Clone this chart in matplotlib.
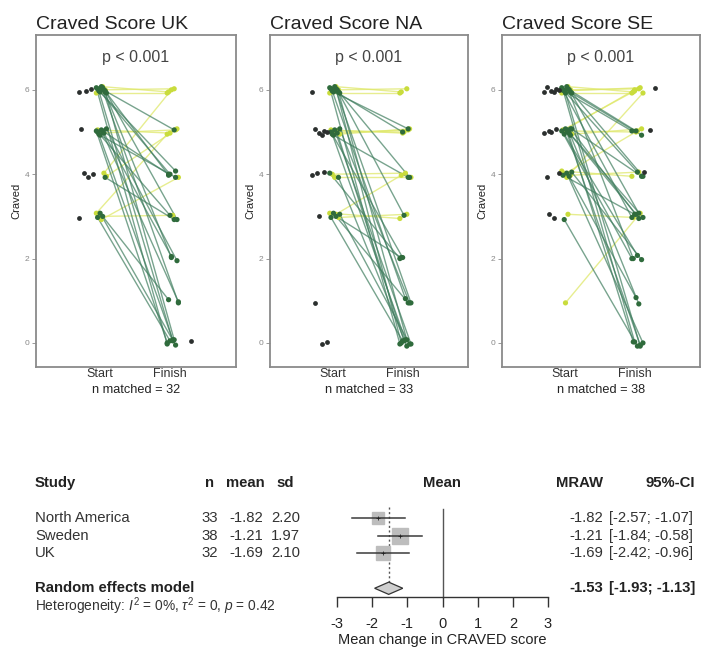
import numpy as np
import matplotlib
matplotlib.use("Agg")
import matplotlib.pyplot as plt
from matplotlib.transforms import blended_transform_factory

plt.rcParams['font.family'] = ['Liberation Sans', 'DejaVu Sans']
plt.rcParams['mathtext.fontset'] = 'custom'
plt.rcParams['mathtext.rm'] = 'Liberation Sans'
plt.rcParams['mathtext.it'] = 'Liberation Sans:italic'

# ---------------- data: paired craving scores (start, finish) ----------------
panel_titles = ["Craved Score UK", "Craved Score NA", "Craved Score SE"]
p_labels = ["p < 0.001", "p < 0.001", "p < 0.001"]
n_matched = [32, 33, 38]

uk_start = [6, 6, 6, 5, 5, 4, 4, 3, 3, 3,
            6, 6, 6, 6, 6, 6, 6, 6, 6, 6, 5, 5, 5, 5, 5, 5, 5, 5, 4, 3, 3, 3]
uk_finish = [6, 6, 6, 5, 5, 5, 6, 4, 3, 5,
             5, 4, 4, 4, 3, 2, 1, 0, 0, 0, 4, 4, 3, 2, 2, 1, 0, 0, 3, 1, 0, 0]
uk_unmatched_start = [6, 6, 6, 5, 4, 4, 4, 3]
uk_unmatched_finish = [0]

na_start = [6, 6, 6, 5, 5, 5, 5, 4, 4, 3, 3, 3,
            6, 6, 6, 6, 6, 6, 6, 6, 6, 5, 5, 5, 5, 5, 5, 4, 4, 3, 3, 3, 3]
na_finish = [6, 6, 6, 5, 5, 5, 5, 4, 4, 3, 3, 4,
             5, 5, 4, 3, 1, 1, 0, 0, 0, 4, 2, 1, 0, 0, 0, 2, 0, 2, 1, 0, 0]
na_unmatched_start = [6, 5, 5, 5, 5, 5, 4, 4, 4, 3, 1, 0, 0]
na_unmatched_finish = []

se_start = [6, 6, 6, 6, 5, 5, 5, 4, 4, 4, 4, 3, 1, 5,
            6, 6, 6, 6, 6, 6, 6, 6, 6, 5, 5, 5, 5, 5, 5, 5, 5, 4, 4, 4, 4, 3, 6, 5]
se_finish = [6, 6, 6, 6, 6, 5, 5, 6, 5, 4, 4, 3, 3, 6,
             5, 5, 4, 4, 3, 3, 2, 0, 0, 4, 3, 3, 2, 2, 1, 0, 0, 3, 2, 1, 0, 0, 5, 3]
se_unmatched_start = [6, 6, 6, 6, 6, 6, 5, 5, 5, 5, 4, 4, 3, 3]
se_unmatched_finish = [6, 5, 4]

starts = [uk_start, na_start, se_start]
finishes = [uk_finish, na_finish, se_finish]
unm_starts = [uk_unmatched_start, na_unmatched_start, se_unmatched_start]
unm_finishes = [uk_unmatched_finish, na_unmatched_finish, se_unmatched_finish]
x_tick_labels = ["Start", "Finish"]
y_ticks = [0, 2, 4, 6]

# ---------------- data: meta-analysis ----------------
studies = ["North America", "Sweden", "UK"]
study_n = [33, 38, 32]
study_mean = [-1.82, -1.21, -1.69]
study_sd = [2.20, 1.97, 2.10]
ci_low = [-2.57, -1.84, -2.42]
ci_high = [-1.07, -0.58, -0.96]
re_mean = -1.53
re_low = -1.93
re_high = -1.13
heterogeneity = r"Heterogeneity: $I^2$ = 0%, $\tau^2$ = 0, $p$ = 0.42"
forest_ticks = [-3, -2, -1, 0, 1, 2, 3]

# ---------------- figure ----------------
W, H = 708, 665
fig = plt.figure(figsize=(W / 100, H / 100), dpi=100)
fig.patch.set_facecolor("white")

def px_rect(x0, y0, x1, y1):
    return [x0 / W, 1 - y1 / H, (x1 - x0) / W, (y1 - y0) / H]

GREEN_LINE = "#3f7d5e"
GREEN_PT = "#2f6b3c"
YELLOW_LINE = "#dfe86a"
YELLOW_PT = "#c9dc3c"
DARK_PT = "#2b2f2e"
FRAME = "#8a8a8a"

panel_px = [(36, 236), (270, 468), (502, 700)]
for k in range(3):
    x0, x1 = panel_px[k]
    ax = fig.add_axes(px_rect(x0, 35, x1, 367))
    s = np.array(starts[k], float)
    f = np.array(finishes[k], float)
    idx = np.arange(len(s))
    jx1 = ((idx * 7) % 9 - 4) * 0.018 + 1.02
    jx2 = ((idx * 5) % 9 - 4) * 0.02 + 2.04
    jy1 = ((idx * 3) % 7 - 3) * 0.025
    jy2 = ((idx * 4) % 7 - 3) * 0.025
    up = f >= s
    for i in idx:
        col = YELLOW_LINE if up[i] else GREEN_LINE
        ax.plot([jx1[i], jx2[i]], [s[i] + jy1[i], f[i] + jy2[i]],
                color=col, lw=1.0, alpha=0.75 if up[i] else 0.7, zorder=2)
    pc = np.where(up, YELLOW_PT, GREEN_PT)
    ax.scatter(jx1, s + jy1, s=14, c=pc, zorder=3, linewidths=0)
    ax.scatter(jx2, f + jy2, s=14, c=pc, zorder=3, linewidths=0)
    us = np.array(unm_starts[k], float)
    ui = np.arange(len(us))
    ax.scatter(0.8 + ((ui * 5) % 7 - 3) * 0.035, us + ((ui * 3) % 5 - 2) * 0.03,
               s=12, c=DARK_PT, zorder=4, linewidths=0)
    uf = np.array(unm_finishes[k], float)
    if len(uf):
        fi = np.arange(len(uf))
        ax.scatter(2.3 - fi * 0.08, uf + 0.05, s=12, c=DARK_PT, zorder=4, linewidths=0)

    ax.set_xlim(0.086, 2.943)
    ax.set_ylim(-0.57, 7.30)
    ax.set_xticks([1, 2])
    ax.set_xticklabels(x_tick_labels, fontsize=9, color="#333333")
    ax.tick_params(axis="x", length=0, pad=1)
    ax.set_yticks(y_ticks)
    ax.set_yticklabels([str(t) for t in y_ticks], fontsize=6, color="#888888")
    ax.tick_params(axis="y", length=3, width=0.7, color="#999999", pad=2)
    ax.set_ylabel("Craved", fontsize=8, color="#222222", labelpad=2)
    for sp in ax.spines.values():
        sp.set_color(FRAME)
        sp.set_linewidth(1.3)
    ax.set_title(panel_titles[k], fontsize=14, color="#222222", loc="left",
                 x=0.0, pad=4)
    ax.text(0.5, 0.955, p_labels[k], transform=ax.transAxes, ha="center",
            va="top", fontsize=11.5, color="#444444")
    ax.text(0.5, -0.052, f"n matched = {n_matched[k]}", transform=ax.transAxes,
            ha="center", va="top", fontsize=9.2, color="#222222")

# ---------------- forest plot ----------------
fax = fig.add_axes(px_rect(337, 474.75, 548, 597))
fax.set_xlim(-3, 3)
fax.set_ylim(5.5, -1.5)
for side in ["top", "left", "right"]:
    fax.spines[side].set_visible(False)
fax.spines["bottom"].set_color("#333333")
fax.spines["bottom"].set_linewidth(1.0)
fax.set_yticks([])
fax.set_xticks(forest_ticks)
fax.set_xticklabels([str(t) for t in forest_ticks], fontsize=10.5, color="#222222")
fax.tick_params(axis="x", length=7, width=1.0, color="#333333", pad=7.5)
fax.set_xlabel("Mean change in CRAVED score", fontsize=10.5, color="#222222",
               labelpad=1)
fax.patch.set_alpha(0)

rows = [1, 2, 3]
weights = np.array(study_n) / np.array(study_sd) ** 2
sizes = np.sqrt(weights / weights.max()) * 11.0
fax.plot([0, 0], [0.45, 5.5], color="#555555", lw=1.0, zorder=1, clip_on=False)
fax.plot([re_mean, re_mean], [0.35, 5.2], color="#555555", lw=1.0, ls=(0, (1.5, 1.8)),
         zorder=1, clip_on=False)
for r, m, lo, hi, sz in zip(rows, study_mean, ci_low, ci_high, sizes):
    fax.plot([lo, hi], [r, r], color="#3a3a3a", lw=1.1, zorder=3)
    fax.plot([m], [r], marker="s", ms=sz, color="#bdbdbd", mec="#bdbdbd", zorder=2)
    fax.plot([m], [r], marker="+", ms=3, color="#222222", mew=0.6, zorder=4)
fax.fill([re_low, re_mean, re_high, re_mean], [5, 4.65, 5, 5.35],
         facecolor="#cfcfcf", edgecolor="#333333", lw=0.9, zorder=3)

tr = blended_transform_factory(fig.transFigure, fax.transData)
FS = 10.7
def ftext(xpx, row, s, ha="left", bold=False, size=FS, color="#222222"):
    fig.text(xpx / W, row, s, transform=tr, ha=ha, va="center", fontsize=size,
             fontweight="bold" if bold else "normal", color=color)

ftext(35, -1, "Study", bold=True)
ftext(210, -1, "n", ha="center", bold=True)
ftext(245, -1, "mean", ha="center", bold=True)
ftext(285, -1, "sd", ha="center", bold=True)
ftext(442, -1, "Mean", ha="center", bold=True)
ftext(603, -1, "MRAW", ha="right", bold=True)
ftext(695, -1, "95%-CI", ha="right", bold=True)
for r, name, n, m, sd, lo, hi in zip(rows, studies, study_n, study_mean, study_sd,
                                     ci_low, ci_high):
    ftext(35, r, name, color="#333333")
    ftext(218, r, f"{n}", ha="right", color="#333333")
    ftext(263, r, f"{m:.2f}", ha="right", color="#333333")
    ftext(300, r, f"{sd:.2f}", ha="right", color="#333333")
    ftext(603, r, f"{m:.2f}", ha="right", color="#333333")
    ftext(693, r, f"[{lo:.2f}; {hi:.2f}]", ha="right", color="#333333")
ftext(35, 5, "Random effects model", bold=True)
ftext(603, 5, f"{re_mean:.2f}", ha="right", bold=True)
ftext(695, 5, f"[{re_low:.2f}; {re_high:.2f}]", ha="right", bold=True)
ftext(35, 6, heterogeneity, size=9.9, color="#333333")

fig.savefig("out.png", dpi=100, facecolor="white")
